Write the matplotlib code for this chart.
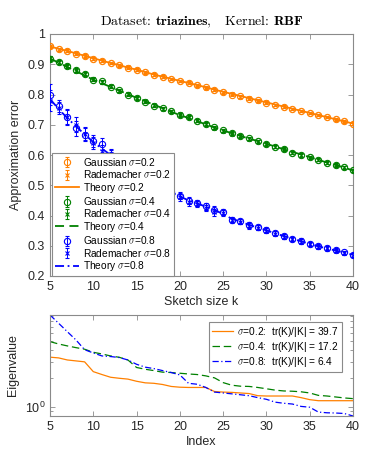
import matplotlib
matplotlib.use("Agg")
import matplotlib.pyplot as plt
from matplotlib.ticker import FixedLocator, FuncFormatter, LogLocator, NullFormatter

plt.rcParams['font.family'] = ['Liberation Sans', 'DejaVu Sans']
plt.rcParams['mathtext.fontset'] = 'cm'

# ---------------- data ----------------
k = list(range(5, 41))

gauss_02 = [.959, .949, .945, .935, .927, .919, .912, .904, .897, .889, .882, .873, .865, .859, .851, .845, .838, .830,
            .824, .815, .807, .800, .794, .786, .781, .773, .765, .760, .752, .745, .739, .732, .726, .718, .711, .703]
rade_02 = [.960, .950, .944, .936, .928, .918, .911, .905, .896, .890, .881, .874, .866, .858, .852, .844, .839, .831,
           .823, .816, .808, .801, .793, .787, .780, .774, .766, .759, .753, .746, .738, .733, .725, .719, .712, .704]
theory_02 = [.959, .951, .944, .936, .928, .920, .912, .904, .897, .889, .882, .874, .866, .859, .852, .845, .838, .831,
             .824, .816, .809, .802, .795, .788, .781, .774, .767, .760, .753, .746, .739, .732, .725, .718, .711, .704]
err_02 = [.005, .005, .005, .005, .005, .004, .004, .004, .004, .004, .004, .004, .004, .004, .004, .004, .004, .004,
          .004, .004, .004, .004, .004, .004, .004, .004, .004, .004, .004, .004, .004, .004, .004, .004, .004, .004]

gauss_04 = [.919, .908, .893, .880, .869, .849, .843, .825, .814, .800, .789, .776, .763, .755, .745, .732, .726, .714,
            .703, .692, .681, .673, .662, .656, .646, .637, .628, .619, .607, .599, .593, .585, .574, .567, .560, .549]
rade_04 = [.921, .906, .895, .879, .867, .851, .841, .827, .812, .802, .787, .778, .765, .753, .744, .734, .724, .713,
           .702, .690, .680, .671, .663, .654, .645, .636, .627, .620, .608, .600, .592, .584, .575, .566, .559, .550]
theory_04 = [.919, .905, .891, .877, .863, .849, .837, .825, .813, .801, .789, .778, .766, .755, .743, .732, .722, .712,
             .701, .691, .681, .672, .663, .654, .646, .637, .628, .619, .610, .602, .593, .584, .575, .567, .558, .549]
err_04 = [.007, .006, .006, .006, .006, .006, .006, .005, .005, .005, .005, .005, .005, .005, .005, .005, .005, .005,
          .005, .005, .005, .005, .005, .005, .005, .005, .005, .005, .005, .005, .005, .005, .005, .005, .005, .005]

gauss_08 = [.799, .761, .724, .689, .667, .645, .636, .601, .582, .562, .543, .525, .508, .492, .478, .466, .449, .441,
            .430, .419, .411, .386, .381, .370, .361, .353, .342, .331, .323, .317, .307, .298, .293, .285, .278, .270]
rade_08 = [.780, .755, .727, .700, .670, .640, .612, .598, .578, .558, .540, .521, .506, .490, .475, .460, .445, .438,
           .425, .410, .408, .384, .380, .366, .360, .350, .340, .330, .322, .314, .305, .296, .291, .284, .276, .269]
theory_08 = [.785, .752, .722, .695, .668, .643, .621, .600, .580, .560, .541, .523, .507, .491, .477, .463, .450, .440,
             .429, .418, .405, .389, .380, .369, .360, .351, .341, .332, .323, .315, .306, .298, .291, .284, .277, .270]
err_08 = [.035, .020, .025, .025, .022, .020, .020, .018, .018, .016, .015, .015, .014, .013, .013, .012, .012, .011,
          .011, .011, .010, .009, .009, .009, .008, .008, .008, .008, .007, .007, .007, .007, .007, .006, .006, .006]

eig_02 = [3.34, 3.28, 3.12, 3.05, 2.98, 2.35, 2.19, 2.05, 2.00, 1.96, 1.86, 1.79, 1.77, 1.72, 1.64, 1.61, 1.60, 1.60,
          1.60, 1.45, 1.43, 1.42, 1.40, 1.38, 1.31, 1.30, 1.30, 1.30, 1.30, 1.25, 1.19, 1.16, 1.16, 1.16, 1.16, 1.16]
eig_04 = [4.87, 4.60, 4.39, 4.21, 4.05, 3.76, 3.61, 3.44, 3.33, 3.12, 2.60, 2.49, 2.41, 2.32, 2.30, 2.26, 2.22, 2.19,
          2.12, 2.02, 1.80, 1.69, 1.65, 1.64, 1.60, 1.55, 1.50, 1.47, 1.46, 1.44, 1.40, 1.32, 1.30, 1.27, 1.24, 1.22]
eig_08 = [9.30, 7.60, 6.20, 5.07, 4.00, 3.70, 3.44, 3.39, 3.31, 3.12, 2.81, 2.62, 2.53, 2.41, 2.30, 2.17, 1.77, 1.73,
          1.60, 1.43, 1.40, 1.37, 1.34, 1.31, 1.25, 1.20, 1.12, 1.09, 1.07, 1.01, 0.99, 0.88, 0.865, 0.86, 0.85, 0.80]

sigmas = ['0.2', '0.4', '0.8']
traces = ['39.7', '17.2', '6.4']
x_ticks = [5, 10, 15, 20, 25, 30, 35, 40]
y_ticks = [0.2, 0.3, 0.4, 0.5, 0.6, 0.7, 0.8, 0.9, 1.0]

colors = ['#ff8000', '#008000', '#0000ff']
theory_styles = ['-', (0, (5, 3)), (0, (5, 2, 1, 2))]
eig_styles = ['-', (0, (6, 3)), (0, (5, 2, 1, 2))]

axis_col = '#8a8a8a'
text_col = '#262626'
FS = 9

fig = plt.figure(figsize=(3.9, 4.68), dpi=100)
ax1 = fig.add_axes([50 / 390, 1 - 276 / 468, 303 / 390, 242 / 468])
ax2 = fig.add_axes([50 / 390, 1 - 416 / 468, 303 / 390, 101 / 468])

gauss = [gauss_02, gauss_04, gauss_08]
rade = [rade_02, rade_04, rade_08]
theory = [theory_02, theory_04, theory_08]
errs = [err_02, err_04, err_08]

handles = []
for i, s in enumerate(sigmas):
    c = colors[i]
    hg = ax1.errorbar(k, gauss[i], yerr=errs[i], fmt='o', color=c, mfc='none', ms=4.5, mew=0.8,
                      elinewidth=0.7, capsize=1.2, label=r'Gaussian $\sigma$=' + s, zorder=3)
    hr = ax1.errorbar(k, rade[i], yerr=errs[i], fmt='x', color=c, ms=3.2, mew=0.8,
                      elinewidth=0.7, capsize=1.2, label=r'Rademacher $\sigma$=' + s, zorder=3)
    ht, = ax1.plot(k, theory[i], linestyle=theory_styles[i], color=c, lw=1.3,
                   label=r'Theory $\sigma$=' + s, zorder=2)
    handles += [hg, hr, ht]

ax1.set_xlim(5, 40)
ax1.set_ylim(0.2, 1.0)
ax1.xaxis.set_major_locator(FixedLocator(x_ticks))
ax1.yaxis.set_major_locator(FixedLocator(y_ticks))
ax1.yaxis.set_major_formatter(FuncFormatter(lambda v, p: ('%g' % round(v, 1))))
ax1.set_xlabel('Sketch size k', fontsize=FS, color=text_col, labelpad=2)
ax1.set_ylabel('Approximation error', fontsize=FS, color=text_col, labelpad=4)
ax1.set_title(r'Dataset: $\mathbf{triazines}$,   Kernel: $\mathbf{RBF}$',
              fontsize=10, pad=6, fontfamily='cmr10')

leg1 = ax1.legend(handles=handles, loc='lower left', bbox_to_anchor=(0.008, 0.0), borderaxespad=0,
                  fontsize=7.3, labelspacing=0.04, handleheight=0.6, handlelength=2.3, handletextpad=0.4,
                  borderpad=0.3, fancybox=False, edgecolor=axis_col, framealpha=1)
leg1.get_frame().set_linewidth(0.8)

for i, s in enumerate(sigmas):
    ax2.plot(k, [eig_02, eig_04, eig_08][i], linestyle=eig_styles[i], color=colors[i], lw=0.9,
             label=r'$\sigma$=' + s + ':  tr(K)/|K| = ' + traces[i])
ax2.set_yscale('log')
ax2.set_xlim(5, 40)
ax2.set_ylim(min(eig_08), max(eig_08))
ax2.xaxis.set_major_locator(FixedLocator(x_ticks))
ax2.yaxis.set_major_locator(LogLocator(base=10))
ax2.yaxis.set_minor_locator(LogLocator(base=10, subs=range(2, 10)))
ax2.yaxis.set_minor_formatter(NullFormatter())
ax2.set_xlabel('Index', fontsize=FS, color=text_col, labelpad=2)
ax2.set_ylabel('Eigenvalue', fontsize=FS, color=text_col, labelpad=4)
leg2 = ax2.legend(loc='upper right', bbox_to_anchor=(0.963, 0.935), borderaxespad=0, fontsize=7.3,
                  labelspacing=0.12, handlelength=2.1, handletextpad=0.4, borderpad=0.3,
                  fancybox=False, edgecolor=axis_col, framealpha=1)
leg2.get_frame().set_linewidth(0.8)

for ax in (ax1, ax2):
    for sp in ax.spines.values():
        sp.set_color(axis_col)
        sp.set_linewidth(0.8)
    ax.tick_params(which='both', direction='in', top=True, right=True, color=axis_col,
                   labelcolor=text_col, labelsize=FS, width=0.6)
    ax.tick_params(which='major', length=3.5)
    ax.tick_params(which='minor', length=2)

fig.savefig('out.png', dpi=100)
